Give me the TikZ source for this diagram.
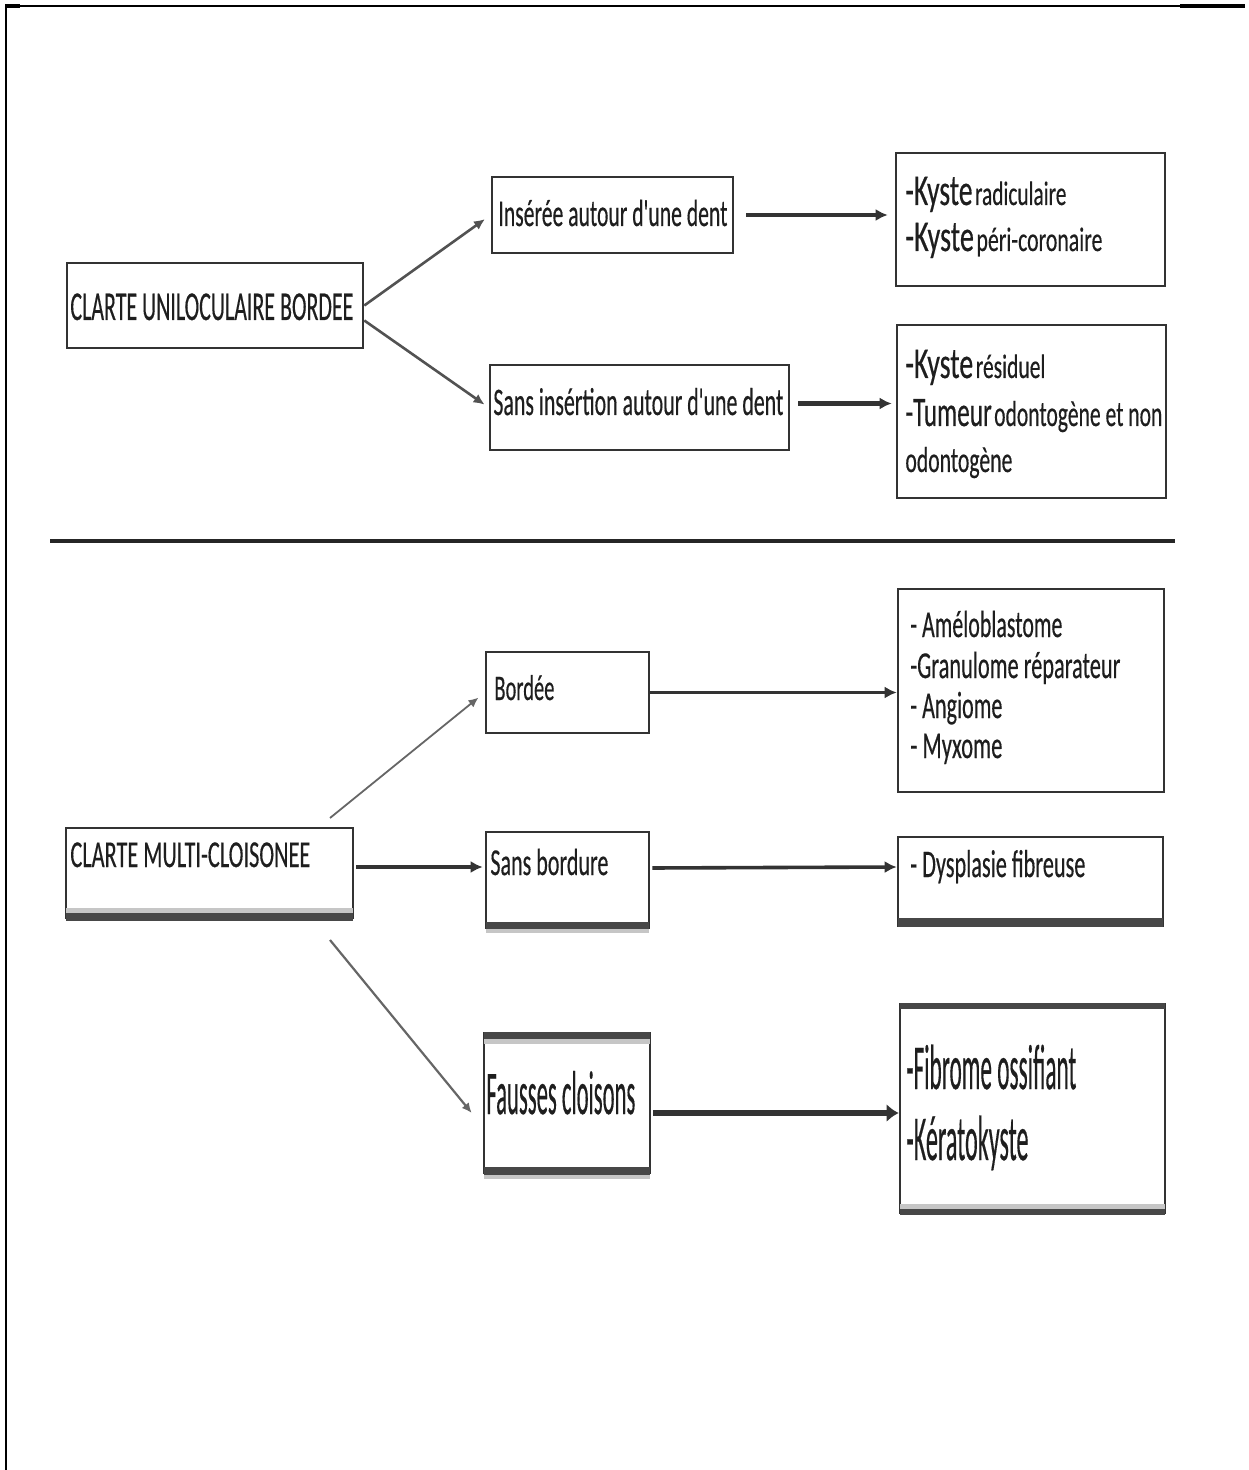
\documentclass[tikz,border=0pt]{standalone}
\usepackage{graphicx}
\usepackage{fontspec}
\setmainfont[FakeBold=0.5]{Carlito}
\usetikzlibrary{arrows.meta,calc,fit}
\newcommand\W[2]{\resizebox{#1pt}{\height}{#2}}
\newcommand\fs[1]{\fontsize{#1}{#1}\selectfont}
\newcommand\q{\textquotesingle}
\definecolor{ink}{HTML}{1E1E1E}
\definecolor{edge}{HTML}{333333}
\begin{document}
\begin{tikzpicture}[x=0.5pt,y=-0.5pt,
  box/.style={draw=edge,line width=1.3pt,inner sep=0pt,rectangle},
  tx/.style={inner sep=0pt,anchor=base west,text=ink},
  arr/.style={draw=edge,line width=1.8pt,-{Latex[length=6pt,width=6pt]}},
  diag/.style={draw=edge!85,line width=1.3pt,-{Latex[length=5.5pt,width=5pt]}},
  thin/.style={draw=gray!80!black,line width=0.9pt,-{Latex[length=5pt,width=4.5pt]}},
  band/.style={fill=black!72,draw=none},
  lband/.style={fill=gray!45,draw=none}]
\useasboundingbox (0,0) rectangle (1248,1470);
% page frame
\draw[line width=0.6pt] (5,6) -- (1245,6);
\fill (5,4.5) rectangle (20,8);
\fill (1180,4.5) rectangle (1245,8);
\draw[line width=0.8pt] (6,6) -- (6,1470);
% divider
\draw[line width=2.2pt,black!85] (50,541) -- (1175,541);

% ---------- top section ----------
\node[box,fit={(67,263) (363,348)}] (u) {};
\node[box,fit={(492,177) (733,253)}] (ins) {};
\node[box,fit={(490,365) (789,450)}] (sansI) {};
\node[box,fit={(896,153) (1165,286)}] (k1) {};
\node[box,fit={(897,325) (1166,498)}] (k2) {};

\node[tx] (tu) at (70,320) {\W{141.5}{\fs{20.5}CLARTE UNILOCULAIRE BORDEE}};
\node[tx] (tins) at (498,226) {\W{114.5}{\fs{19}Insérée autour d\q une dent}};
\node[tx] (tsI) at (493,415) {\W{145}{\fs{19.5}Sans insértion autour d\q une dent}};
\node[tx] (tk1a) at (905,205) {\W{80.5}{\fs{22}-Kyste\hspace{2pt}\fs{17}radiculaire}};
\node[tx] (tk1b) at (905,251) {\W{98.5}{\fs{22}-Kyste\hspace{2pt}\fs{17}péri-coronaire}};
\node[tx] (tk2a) at (905,378) {\W{70}{\fs{22}-Kyste\hspace{2pt}\fs{17}résiduel}};
\node[tx] (tk2b) at (905,426) {\W{128.5}{\fs{21}-Tumeur\hspace{2pt}\fs{18}odontogène et non}};
\node[tx] (tk2c) at (905,472) {\W{53.5}{\fs{18}odontogène}};

\draw[diag,shorten >=3.5pt] (u.east) -- (ins.west);
\draw[diag,shorten >=2.5pt] ($(u.east)+(0,15)$) -- (sansI.west);
\draw[arr,shorten <=6pt,shorten >=3.5pt] (ins.east) -- (ins.east-|k1.west);
\draw[arr,line width=2.2pt,shorten <=4pt,shorten >=2pt] ($(sansI.east)+(0,-4)$) -- ($(sansI.east-|k2.west)+(0,-4)$);

% ---------- bottom section ----------
\node[box,fit={(66,828) (353,918)}] (m) {};
\node[box,fit={(486,652) (649,733)}] (bo) {};
\node[box,fit={(486,832) (649,928)}] (sb) {};
\node[box,fit={(484,1033) (650,1173)}] (fc) {};
\node[box,fit={(898,589) (1164,792)}] (am) {};
\node[box,fit={(898,837) (1163,926)}] (dy) {};
\node[box,fit={(900,1004) (1165,1213)}] (fi) {};

% shadow bands
\fill[lband] (66,908) rectangle (353,913);
\fill[band] (66,913) rectangle (353,921);
\fill[band] (486,922) rectangle (649,929);
\fill[lband] (486,929) rectangle (649,933);
\fill[band] (898,918) rectangle (1163,927);
\fill[band] (484,1032) rectangle (650,1039);
\fill[lband] (484,1039) rectangle (650,1044);
\fill[band] (484,1167) rectangle (650,1175);
\fill[lband] (484,1175) rectangle (650,1179);
\fill[band] (900,1003) rectangle (1165,1009);
\fill[lband] (900,1204) rectangle (1165,1209);
\fill[band] (900,1209) rectangle (1165,1215);

\node[tx] (tm) at (70,867) {\W{120}{\fs{19}CLARTE MULTI-CLOISONEE}};
\node[tx] (tbo) at (494,700) {\W{30}{\fs{18}Bordée}};
\node[tx] (tsb) at (490,875) {\W{59}{\fs{19}Sans bordure}};
\node[tx] (tfc) at (486,1114) {\W{74.5}{\fs{31}Fausses cloisons}};
\node[tx] (tam1) at (910,637) {\W{76}{\fs{19}- Améloblastome}};
\node[tx] (tam2) at (910,678) {\W{105}{\fs{19}-Granulome réparateur}};
\node[tx] (tam3) at (910,718) {\W{46}{\fs{19}- Angiome}};
\node[tx] (tam4) at (910,758) {\W{46}{\fs{19}- Myxome}};
\node[tx] (tdy) at (910,877) {\W{87.5}{\fs{19.5}- Dysplasie fibreuse}};
\node[tx] (tfi1) at (906,1089) {\W{85}{\fs{32}-Fibrome ossifiant}};
\node[tx] (tfi2) at (906,1160) {\W{61}{\fs{32}-Kératokyste}};

\coordinate (bs) at (330,818);
\coordinate (fs) at (330,940);
\draw[thin,shorten >=4pt] (bs) -- (bo.west);
\draw[arr,shorten <=1pt,shorten >=1pt] ($(m.east)+(0,-6)$) -- ($(m.east-|sb.west)+(0,-6)$);
\draw[thin,line width=1.1pt] (fs) -- ($(fc.west)+(-11,10)$);
\draw[arr] (bo.east) -- (bo.east-|am.west);
\draw[arr,shorten <=1pt] ($(sb.east)+(0,-12)$) -- ($(sb.east-|dy.west)+(0,-13)$);
\draw[arr,line width=3pt,-{Latex[length=6pt,width=9pt]},shorten <=1pt] ($(fc.east)+(0,10)$) -- ($(fc.east-|fi.west)+(0,10)$);
\end{tikzpicture}
\end{document}
